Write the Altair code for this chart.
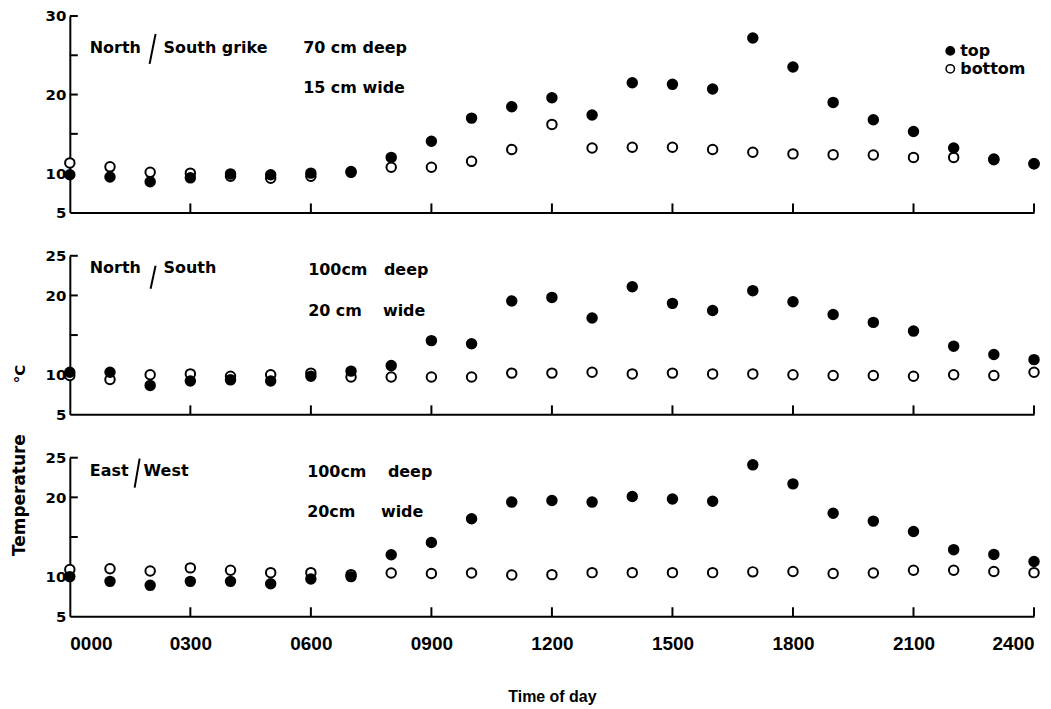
import altair as alt
import pandas as pd

# ---------------- data ----------------
hours = list(range(25))  # hourly readings 0000 .. 2400

ns_grike_top = [9.8, 9.5, 8.9, 9.4, 9.9, 9.8, 10.0, 10.2, 12.0, 14.05, 17.0, 18.45, 19.6,
                17.4, 21.5, 21.3, 20.7, 27.2, 23.5, 19.0, 16.8, 15.3, 13.2, 11.7, 11.2]
ns_grike_bottom = [11.3, 10.8, 10.1, 10.0, 9.6, 9.35, 9.6, 10.1, 10.75, 10.75, 11.5, 13.0, 16.2,
                   13.2, 13.3, 13.3, 13.0, 12.65, 12.45, 12.35, 12.3, 12.0, 12.0, 11.8, 11.2]

ns_top = [10.3, 10.3, 8.65, 9.2, 9.35, 9.2, 9.8, 10.45, 11.15, 14.3, 13.9, 19.3, 19.75,
          17.15, 21.1, 19.0, 18.1, 20.6, 19.2, 17.6, 16.6, 15.5, 13.6, 12.55, 11.9]
ns_bottom = [9.9, 9.4, 10.0, 10.1, 9.8, 10.0, 10.2, 9.7, 9.7, 9.7, 9.7, 10.2, 10.2,
             10.3, 10.1, 10.2, 10.1, 10.1, 10.0, 9.9, 9.9, 9.8, 10.0, 9.9, 10.3]

ew_top = [10.0, 9.4, 8.9, 9.4, 9.4, 9.1, 9.7, 10.0, 12.75, 14.3, 17.3, 19.4, 19.6,
          19.4, 20.1, 19.8, 19.5, 24.1, 21.7, 18.0, 17.0, 15.7, 13.4, 12.8, 11.9]
ew_bottom = [10.9, 11.0, 10.7, 11.1, 10.8, 10.5, 10.5, 10.25, 10.45, 10.4, 10.45, 10.2, 10.25,
             10.5, 10.5, 10.5, 10.5, 10.6, 10.65, 10.4, 10.45, 10.8, 10.8, 10.65, 10.5]

positions = ["top", "bottom"]
x_tick_hours = [0, 3, 6, 9, 12, 15, 18, 21, 24]
x_tick_labels = ["0000", "0300", "0600", "0900", "1200", "1500", "1800", "2100", "2400"]
inner_x_ticks = [3, 6, 9, 12, 15, 18, 21, 24]

# ---------------- styling ----------------
W = 967
BOLD = "DejaVu Sans"
label_expr = "[" + ",".join("'%s'" % s for s in x_tick_labels) + "][round(datum.value / 3)]"

fill_scale = alt.Scale(domain=positions, range=["black", "white"])
legend = alt.Legend(orient="none", legendX=875, legendY=27, title=None,
                    symbolType="circle", symbolSize=70, symbolStrokeColor="black",
                    symbolStrokeWidth=1.5, labelFont=BOLD, labelFontWeight="bold",
                    labelFontSize=16, labelColor="black", labelOffset=2,
                    rowPadding=2, padding=0)


def text_layer(label, x, y, size=16):
    return alt.Chart(pd.DataFrame({"label": [label]})).mark_text(
        align="left", baseline="middle", font=BOLD, fontWeight="bold",
        fontSize=size, color="black"
    ).encode(x=alt.value(x), y=alt.value(y), text="label:N")


def slash_layer(x1, y1, x2, y2):
    return alt.Chart(pd.DataFrame({"label": ["/"]})).mark_rule(
        color="black", strokeWidth=2
    ).encode(x=alt.value(x1), y=alt.value(y1), x2=alt.value(x2), y2=alt.value(y2))


def panel(top, bottom, ymax, height, ylabels, yticks, annots, slash, last=False, ytitle=None):
    df = pd.DataFrame({
        "hour": hours + hours,
        "temp": bottom + top,
        "position": ["bottom"] * len(hours) + ["top"] * len(hours),
    })
    xscale = alt.Scale(domain=[0, 24], nice=False, zero=False)
    yscale = alt.Scale(domain=[5, ymax], nice=False, zero=False)

    if last:
        xaxis = alt.Axis(values=x_tick_hours, labelExpr=label_expr, ticks=False, tickSize=0,
                         grid=False, labelFlush=True, labelPadding=18,
                         labelFont="Liberation Sans", labelFontWeight="bold", labelFontSize=19,
                         labelColor="black", title="Time of day",
                         titleFont="Liberation Sans", titleFontWeight="bold", titleFontSize=16,
                         titleColor="black", titleY=80, titleBaseline="middle")
    else:
        xaxis = alt.Axis(labels=False, ticks=False, tickSize=0, grid=False, title=None)

    yargs = dict(values=ylabels, ticks=False, tickSize=0, grid=False, labelPadding=4,
                 labelFont=BOLD, labelFontWeight="bold", labelFontSize=15, labelColor="black")
    if ytitle:
        yargs.update(title=ytitle[0], titleAngle=270, titleX=-50, titleY=ytitle[1],
                     titleBaseline="middle", titleAlign="center", titleFont=BOLD,
                     titleFontWeight="bold", titleFontSize=ytitle[2], titleColor="black")
    else:
        yargs.update(title=None)
    yaxis = alt.Axis(**yargs)

    pts = alt.Chart(df).mark_point(
        shape="circle", filled=True, stroke="black", strokeWidth=2, size=90, opacity=1
    ).encode(
        x=alt.X("hour:Q", scale=xscale, axis=xaxis),
        y=alt.Y("temp:Q", scale=yscale, axis=yaxis),
        fill=alt.Fill("position:N", scale=fill_scale, legend=legend),
    )

    xt = alt.Chart(pd.DataFrame({"hour": inner_x_ticks})).mark_rule(
        color="black", strokeWidth=2
    ).encode(x=alt.X("hour:Q", scale=xscale, axis=xaxis),
             y=alt.value(height), y2=alt.value(height - 9))

    yt = alt.Chart(pd.DataFrame({"temp": yticks})).mark_rule(
        color="black", strokeWidth=2
    ).encode(y=alt.Y("temp:Q", scale=yscale, axis=yaxis),
             x=alt.value(0), x2=alt.value(8))

    layers = [pts, xt, yt, slash_layer(*slash)] + [text_layer(*a) for a in annots]
    return alt.layer(*layers).properties(width=W, height=height)


p1 = panel(ns_grike_top, ns_grike_bottom, 30, 197, [5, 10, 20, 30], [15, 20, 25, 30],
           [("North", 20, 32), ("South  grike", 94, 32), ("70 cm deep", 234, 32),
            ("15  cm wide", 234, 72)],
           (80, 48, 86, 18))

p2 = panel(ns_top, ns_bottom, 25, 159, [5, 10, 20, 25], [15, 20, 25],
           [("North", 20, 12), ("South", 94, 12), ("100cm", 239, 14), ("deep", 315, 14),
            ("20 cm", 239, 55), ("wide", 314, 55)],
           (81, 33, 86, 10), ytitle=("°C", 118, 15))

p3 = panel(ew_top, ew_bottom, 25, 159, [5, 10, 20, 25], [15, 20, 25],
           [("East", 20, 13), ("West", 74, 13), ("100cm", 238, 14), ("deep", 319, 14),
            ("20cm", 238, 54), ("wide", 312, 54)],
           (65, 30, 70, 1), last=True, ytitle=("Temperature", 37, 17))

chart = alt.vconcat(p1, p2, p3, spacing=43.5, bounds="flush").resolve_scale(
    y="independent", fill="shared"
).properties(
    padding={"left": 3, "top": 0, "right": 0, "bottom": 0}
).configure_view(stroke=None).configure_axis(
    domainColor="black", domainWidth=2
)

chart.save("out.html", embed_options={"renderer": "svg", "actions": False})
